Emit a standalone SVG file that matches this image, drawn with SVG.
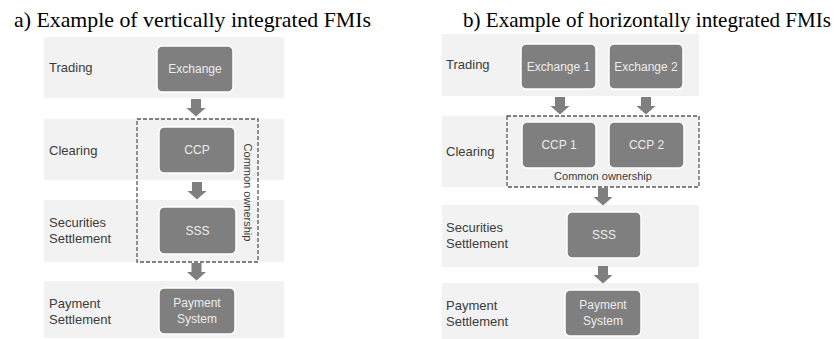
<svg xmlns="http://www.w3.org/2000/svg" width="838" height="339" viewBox="0 0 838 339">
<defs>
<style>
.title{font-family:"Liberation Serif","Times New Roman",serif;font-size:21px;fill:#000}
.band{fill:#f2f2f2}
.box{fill:#7f7f7f;stroke:#ffffff;stroke-width:1.5}
.bt{font-family:"Liberation Sans",Arial,sans-serif;font-size:12px;fill:#ececec;text-anchor:middle}
.lbl{font-family:"Liberation Sans",Arial,sans-serif;font-size:13px;fill:#3c3c3c}
.own{font-family:"Liberation Sans",Arial,sans-serif;font-size:11px;fill:#3c3c3c;text-anchor:middle}
.dash{fill:none;stroke:#5a5a5a;stroke-width:1.3;stroke-dasharray:4 2}
.arr{fill:#7f7f7f}
</style>
<path id="arrow" d="M-5,0 H5 V9 H9.5 L0,17.5 L-9.5,9 H-5 Z"/>
</defs>
<rect width="838" height="339" fill="#ffffff"/>
<text class="title" x="14" y="27" textLength="357" lengthAdjust="spacingAndGlyphs">a) Example of vertically integrated FMIs</text>
<text class="title" x="463" y="27" textLength="368" lengthAdjust="spacingAndGlyphs">b) Example of horizontally integrated FMIs</text>

<g id="bands-left">
<rect class="band" x="44" y="37" width="240" height="61"/>
<rect class="band" x="44" y="119" width="240" height="61"/>
<rect class="band" x="44" y="200" width="240" height="62"/>
<rect class="band" x="44" y="281" width="240" height="57"/>
<text class="lbl" x="49" y="72">Trading</text>
<text class="lbl" x="49" y="155">Clearing</text>
<text class="lbl" x="49" y="227">Securities</text>
<text class="lbl" x="49" y="243">Settlement</text>
<text class="lbl" x="49" y="308">Payment</text>
<text class="lbl" x="49" y="324">Settlement</text>
</g>

<g id="bands-right">
<rect class="band" x="442" y="34" width="257" height="62"/>
<rect class="band" x="442" y="116" width="257" height="71"/>
<rect class="band" x="442" y="205" width="257" height="62"/>
<rect class="band" x="442" y="283" width="257" height="56"/>
<text class="lbl" x="446" y="69">Trading</text>
<text class="lbl" x="446" y="156">Clearing</text>
<text class="lbl" x="446" y="232">Securities</text>
<text class="lbl" x="446" y="248">Settlement</text>
<text class="lbl" x="446" y="310">Payment</text>
<text class="lbl" x="446" y="326">Settlement</text>
</g>

<g id="a-exchange"><rect class="box" x="157" y="46" width="76" height="46" rx="5"/><text class="bt" x="195" y="73">Exchange</text></g>
<g id="a-ccp"><rect class="box" x="159" y="127" width="76" height="46" rx="5"/><text class="bt" x="197" y="154">CCP</text></g>
<g id="a-sss"><rect class="box" x="159" y="207" width="77" height="47" rx="5"/><text class="bt" x="197.5" y="235">SSS</text></g>
<g id="a-payment"><rect class="box" x="159" y="288" width="76" height="46" rx="5"/><text class="bt" x="197" y="307">Payment</text><text class="bt" x="197" y="323">System</text></g>
<g id="a-ownership"><rect class="dash" x="137" y="119" width="121" height="143"/><text class="own" transform="translate(243.5,192.5) rotate(90)">Common ownership</text></g>

<g id="b-exchange1"><rect class="box" x="521" y="44" width="75" height="45" rx="5"/><text class="bt" x="558.5" y="71">Exchange 1</text></g>
<g id="b-exchange2"><rect class="box" x="609" y="44" width="74" height="45" rx="5"/><text class="bt" x="646" y="71">Exchange 2</text></g>
<g id="b-ccp1"><rect class="box" x="522" y="122" width="74" height="46" rx="5"/><text class="bt" x="559" y="149">CCP 1</text></g>
<g id="b-ccp2"><rect class="box" x="609" y="122" width="75" height="46" rx="5"/><text class="bt" x="646.5" y="149">CCP 2</text></g>
<g id="b-ownership"><rect class="dash" x="507" y="116" width="192" height="71"/><text class="own" x="603" y="180">Common ownership</text></g>
<g id="b-sss"><rect class="box" x="567" y="212" width="74" height="46" rx="5"/><text class="bt" x="604" y="239">SSS</text></g>
<g id="b-payment"><rect class="box" x="565" y="290" width="76" height="46" rx="5"/><text class="bt" x="603" y="309">Payment</text><text class="bt" x="603" y="325">System</text></g>

<g id="connectors" class="arr">
<use href="#arrow" x="196" y="99"/>
<use href="#arrow" x="197" y="182"/>
<use href="#arrow" x="196.5" y="263"/>
<use href="#arrow" x="560" y="97"/>
<use href="#arrow" x="646" y="97"/>
<use href="#arrow" x="603" y="188"/>
<use href="#arrow" x="603" y="266"/>
</g>
</svg>
